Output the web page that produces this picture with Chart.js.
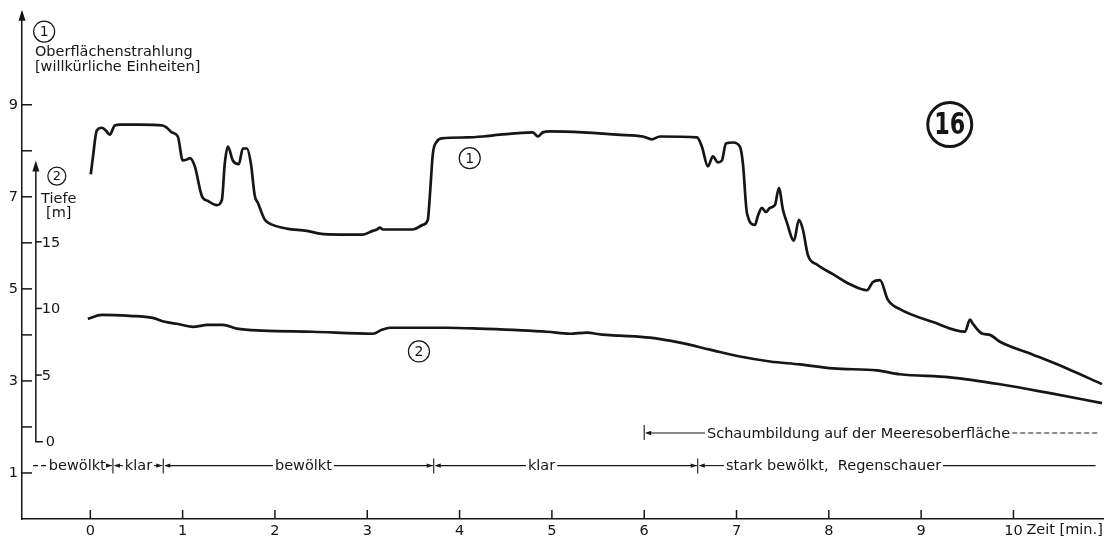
<!DOCTYPE html>
<html>
<head>
<meta charset="utf-8">
<script src="https://cdn.jsdelivr.net/npm/chart.js@4/dist/chart.umd.min.js"></script>
<style>
  html, body { margin: 0; padding: 0; background: #fff; }
  canvas { display: block; }
</style>
</head>
<body>
<canvas id="chart" width="1106" height="540"></canvas>
<script>
// ---- Kurve 1: Oberflächenstrahlung (willkürliche Einheiten) über der Zeit [min] ----
const radTime = [0.005, 0.027, 0.070, 0.125, 0.168, 0.211, 0.265, 0.320, 0.536, 0.785,
  0.829, 0.883, 0.948, 1.002, 1.046, 1.078, 1.132, 1.208, 1.273, 1.371,
  1.425, 1.457, 1.490, 1.544, 1.609, 1.652, 1.696, 1.739, 1.782, 1.815,
  1.891, 1.977, 2.129, 2.346, 2.486, 2.703, 2.952, 3.060, 3.104, 3.137,
  3.169, 3.494, 3.602, 3.656, 3.678, 3.711, 3.754, 3.808, 4.079, 4.252,
  4.436, 4.794, 4.848, 4.902, 4.978, 5.336, 5.704, 5.986, 6.083, 6.170,
  6.571, 6.625, 6.690, 6.744, 6.798, 6.842, 6.885, 6.961, 7.037, 7.069,
  7.113, 7.199, 7.232, 7.275, 7.319, 7.362, 7.416, 7.459, 7.503, 7.546,
  7.622, 7.676, 7.719, 7.774, 7.871, 8.045, 8.229, 8.413, 8.478, 8.554,
  8.640, 8.770, 9.128, 9.475, 9.529, 9.561, 9.659, 9.745, 9.854, 10.211,
  10.580, 10.959];
const radValue = [7.49, 7.84, 8.44, 8.50, 8.44, 8.35, 8.55, 8.57, 8.57, 8.55,
  8.50, 8.40, 8.31, 7.79, 7.81, 7.84, 7.66, 7.02, 6.91, 6.82,
  6.93, 7.73, 8.09, 7.79, 7.71, 8.05, 8.05, 7.73, 7.02, 6.87,
  6.50, 6.39, 6.31, 6.26, 6.20, 6.18, 6.18, 6.26, 6.29, 6.33,
  6.29, 6.29, 6.39, 6.50, 7.02, 7.94, 8.20, 8.27, 8.29, 8.31,
  8.35, 8.40, 8.31, 8.40, 8.42, 8.40, 8.35, 8.31, 8.25, 8.31,
  8.29, 8.09, 7.66, 7.88, 7.75, 7.79, 8.16, 8.18, 8.09, 7.73,
  6.65, 6.39, 6.59, 6.76, 6.67, 6.76, 6.82, 7.19, 6.72, 6.44,
  6.05, 6.50, 6.29, 5.73, 5.53, 5.32, 5.10, 4.97, 5.15, 5.19,
  4.76, 4.56, 4.28, 4.07, 4.33, 4.24, 4.03, 4.00, 3.85, 3.57,
  3.27, 2.93];

// ---- Kurve 2: Tiefe [m] über der Zeit [min] ----
const depthTime = [-0.027, 0.125, 0.428, 0.677, 0.807, 0.937, 1.111, 1.273, 1.436, 1.587,
  1.869, 2.410, 3.060, 3.158, 3.245, 3.862, 4.220, 4.946, 5.195, 5.379,
  5.542, 5.737, 6.062, 6.387, 6.712, 7.037, 7.362, 7.687, 8.045, 8.521,
  8.770, 9.312, 9.854, 10.396, 10.959];
const depthValue = [9.22, 9.52, 9.44, 9.29, 9.00, 8.85, 8.62, 8.77, 8.77, 8.48,
  8.33, 8.25, 8.10, 8.40, 8.55, 8.55, 8.48, 8.25, 8.10, 8.18,
  8.03, 7.96, 7.81, 7.43, 6.91, 6.39, 6.02, 5.80, 5.50, 5.35,
  5.06, 4.83, 4.31, 3.64, 2.90];

// ---- Achsenteilungen ----
const timeTicks = [0, 1, 2, 3, 4, 5, 6, 7, 8, 9, 10];
const radTicks = [1, 2, 3, 4, 5, 6, 7, 8, 9];
const depthTicks = [0, 5, 10, 15];

// ---- Wetterbeobachtungen (Zeitgrenzen in min) ----
const weatherLabels = ['bewölkt', 'klar', 'bewölkt', 'klar', 'stark bewölkt,  Regenschauer'];
const weatherBounds = [0.245, 0.79, 3.72, 6.58];
const foamLabel = 'Schaumbildung auf der Meeresoberfläche';
const foamStart = 6.0;

// ---- Zeichenparameter ----
const INK = '#161616';
const FONT = '"DejaVu Sans", "Liberation Sans", sans-serif';
const LABEL_FONT = '14.5px ' + FONT;
const weatherRow = { level: 1.16, from: -0.62, to: 10.9, dashTo: -0.46,
  textAt: [-0.45, 0.374, 2.0, 4.74, 6.885] };
const foamRow = { level: 1.87, textAt: 6.68, to: 10.94 };
const depthAxis = { at: -0.59, top: 21.1 };

function upArrow(ctx, x, yTip) {
  ctx.beginPath();
  ctx.moveTo(x, yTip);
  ctx.lineTo(x - 3.5, yTip + 11);
  ctx.lineTo(x + 3.5, yTip + 11);
  ctx.closePath();
  ctx.fill();
}

function sideArrow(ctx, x, y, dir) {
  // dir = +1: Spitze zeigt nach rechts, -1: nach links
  ctx.beginPath();
  ctx.moveTo(x, y);
  ctx.lineTo(x - dir * 6, y - 2.2);
  ctx.lineTo(x - dir * 6, y + 2.2);
  ctx.closePath();
  ctx.fill();
}

function hLine(ctx, x1, x2, y, dash) {
  if (x2 <= x1) return;
  ctx.save();
  ctx.setLineDash(dash || []);
  ctx.beginPath();
  ctx.moveTo(x1, y);
  ctx.lineTo(x2, y);
  ctx.stroke();
  ctx.restore();
}

function circled(ctx, cx, cy, r, text, font, lw, squeeze) {
  ctx.save();
  ctx.lineWidth = lw;
  ctx.beginPath();
  ctx.arc(cx, cy, r, 0, Math.PI * 2);
  ctx.stroke();
  ctx.font = font;
  ctx.textAlign = 'center';
  ctx.textBaseline = 'middle';
  ctx.translate(cx, cy + 1);
  if (squeeze) ctx.scale(squeeze, 1);
  ctx.fillText(text, 0, 0);
  ctx.restore();
}

const decorations = {
  id: 'decorations',
  afterDraw(chart) {
    const { ctx, chartArea: a, scales } = chart;
    const { x, y, y2 } = scales;
    ctx.save();
    ctx.fillStyle = INK;
    ctx.strokeStyle = INK;
    ctx.lineWidth = 1.5;

    // Pfeil der Strahlungsachse und nach innen weisende Teilstriche
    upArrow(ctx, a.left, a.top - 3);
    radTicks.forEach(v => {
      const py = y.getPixelForValue(v);
      hLine(ctx, a.left, a.left + 10, py);
    });
    timeTicks.forEach(t => {
      const px = x.getPixelForValue(t);
      ctx.beginPath();
      ctx.moveTo(px, a.bottom);
      ctx.lineTo(px, a.bottom - 9);
      ctx.stroke();
    });

    // Tiefenachse
    const ax = x.getPixelForValue(depthAxis.at);
    const p0 = y2.getPixelForValue(0);
    const pTop = y2.getPixelForValue(depthAxis.top);
    ctx.beginPath();
    ctx.moveTo(ax + 7, p0);
    ctx.lineTo(ax, p0);
    ctx.lineTo(ax, pTop + 8);
    ctx.stroke();
    upArrow(ctx, ax, pTop);
    ctx.font = LABEL_FONT;
    ctx.textAlign = 'left';
    ctx.textBaseline = 'middle';
    depthTicks.forEach(d => {
      const py = y2.getPixelForValue(d);
      if (d !== 0) hLine(ctx, ax, ax + 6, py);
      ctx.fillText(String(d), ax + (d === 0 ? 10 : 6), py + 1);
    });

    // Achsenbeschriftungen
    circled(ctx, x.getPixelForValue(-0.50), y.getPixelForValue(10.59), 10.5, '1', '14px ' + FONT, 1.2);
    ctx.font = LABEL_FONT;
    ctx.textAlign = 'left';
    ctx.textBaseline = 'alphabetic';
    const tx = x.getPixelForValue(-0.60);
    ctx.fillText('Oberflächenstrahlung', tx, y.getPixelForValue(10.06));
    ctx.fillText('[willkürliche Einheiten]', tx, y.getPixelForValue(9.74));

    const dx = x.getPixelForValue(-0.363);
    circled(ctx, dx, y.getPixelForValue(7.45), 9, '2', '13px ' + FONT, 1.2);
    ctx.font = LABEL_FONT;
    ctx.textAlign = 'center';
    ctx.textBaseline = 'middle';
    ctx.fillText('Tiefe', dx + 2, y.getPixelForValue(6.95));
    ctx.fillText('[m]', dx + 2, y.getPixelForValue(6.65));

    // Kurvenbezeichnungen und Bildnummer
    circled(ctx, x.getPixelForValue(4.11), y.getPixelForValue(7.84), 10.5, '1', '14px ' + FONT, 1.2);
    circled(ctx, x.getPixelForValue(3.56), y.getPixelForValue(3.64), 10.5, '2', '14px ' + FONT, 1.2);
    circled(ctx, x.getPixelForValue(9.31), y.getPixelForValue(8.57), 22, '16',
      'bold 31px ' + FONT, 3, 0.72);

    // Zeitachsen-Titel
    ctx.font = LABEL_FONT;
    ctx.textAlign = 'left';
    ctx.textBaseline = 'middle';
    ctx.fillText('Zeit [min.]', x.getPixelForValue(10.14), a.bottom + 11);

    // Wetterzeile
    ctx.lineWidth = 1.1;
    const wy = y.getPixelForValue(weatherRow.level);
    const starts = [weatherRow.from].concat(weatherBounds);
    const ends = weatherBounds.concat([weatherRow.to]);
    weatherLabels.forEach((label, i) => {
      const s = x.getPixelForValue(starts[i]);
      const e = x.getPixelForValue(ends[i]);
      const t0 = x.getPixelForValue(weatherRow.textAt[i]);
      const w = ctx.measureText(label).width;
      ctx.fillText(label, t0, wy + 1);
      if (i === 0) {
        const dEnd = x.getPixelForValue(weatherRow.dashTo);
        hLine(ctx, s, Math.min(dEnd, t0 - 2), wy, [5, 3]);
      } else {
        hLine(ctx, s + 2, t0 - 2, wy);
        sideArrow(ctx, s + 1, wy, -1);
      }
      hLine(ctx, t0 + w + 2, e - 1, wy);
      if (i < weatherBounds.length) sideArrow(ctx, e - 1, wy, 1);
    });
    weatherBounds.forEach(t => {
      const px = x.getPixelForValue(t);
      ctx.beginPath();
      ctx.moveTo(px, wy - 7);
      ctx.lineTo(px, wy + 8);
      ctx.stroke();
    });

    // Schaumbildung
    const fy = y.getPixelForValue(foamRow.level);
    const fs = x.getPixelForValue(foamStart);
    ctx.beginPath();
    ctx.moveTo(fs, fy - 8);
    ctx.lineTo(fs, fy + 7);
    ctx.stroke();
    sideArrow(ctx, fs + 1, fy, -1);
    const ft = x.getPixelForValue(foamRow.textAt);
    hLine(ctx, fs + 2, ft - 2, fy);
    ctx.fillText(foamLabel, ft, fy + 1);
    const fw = ctx.measureText(foamLabel).width;
    hLine(ctx, ft + fw + 2, x.getPixelForValue(foamRow.to), fy, [5, 3]);

    ctx.restore();
  }
};

const pairs = (xs, ys) => xs.map((t, i) => ({ x: t, y: ys[i] }));

new Chart(document.getElementById('chart'), {
  type: 'line',
  data: {
    datasets: [
      {
        label: 'Oberflächenstrahlung',
        data: pairs(radTime, radValue),
        yAxisID: 'y',
        borderColor: INK,
        borderWidth: 2.7,
        pointRadius: 0,
        cubicInterpolationMode: 'monotone',
        fill: false
      },
      {
        label: 'Tiefe',
        data: pairs(depthTime, depthValue),
        yAxisID: 'y2',
        borderColor: INK,
        borderWidth: 2.7,
        pointRadius: 0,
        cubicInterpolationMode: 'monotone',
        fill: false
      }
    ]
  },
  options: {
    responsive: false,
    animation: false,
    devicePixelRatio: 1,
    layout: { padding: { top: 8, right: 3, left: 0, bottom: 0 } },
    plugins: { legend: { display: false }, tooltip: { enabled: false }, title: { display: false } },
    scales: {
      x: {
        type: 'linear',
        min: -0.74,
        max: 10.97,
        afterBuildTicks: s => { s.ticks = timeTicks.map(v => ({ value: v })); },
        afterFit: s => { s.height = 21; },
        grid: { display: false, drawTicks: false, tickLength: 0 },
        border: { display: true, color: INK, width: 1.5 },
        ticks: { color: INK, font: { family: FONT, size: 14.5 }, padding: 4, maxRotation: 0, autoSkip: false }
      },
      y: {
        type: 'linear',
        min: 0,
        max: 11,
        afterBuildTicks: s => { s.ticks = radTicks.map(v => ({ value: v })); },
        afterFit: s => { s.width = 22; },
        grid: { display: false, drawTicks: false, tickLength: 0 },
        border: { display: true, color: INK, width: 1.5 },
        ticks: {
          color: INK,
          font: { family: FONT, size: 14.5 },
          padding: 4,
          autoSkip: false,
          callback: v => (v % 2 === 1 ? String(v) : '')
        }
      },
      y2: {
        type: 'linear',
        display: false,
        min: -5.80,
        max: 32.19
      }
    }
  },
  plugins: [decorations]
});
</script>
</body>
</html>
